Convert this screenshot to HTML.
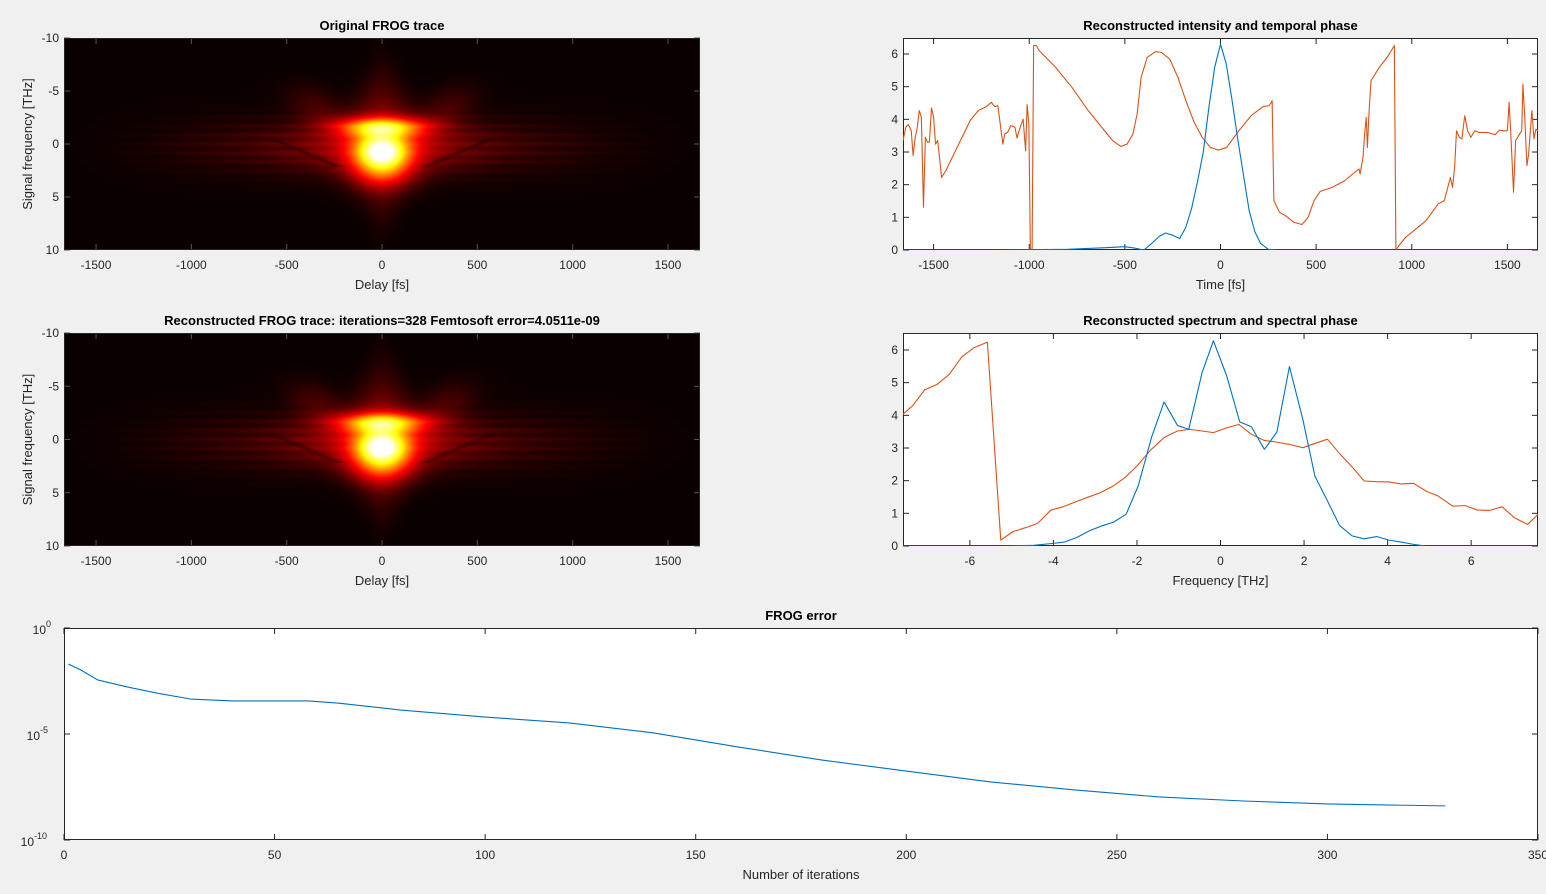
<!DOCTYPE html>
<html><head><meta charset="utf-8">
<style>
html,body{margin:0;padding:0;background:#f0f0f0;}
#wrap{position:relative;width:1546px;height:894px;overflow:hidden;font-family:"Liberation Sans",Arial,sans-serif;}
canvas{position:absolute;}
svg{position:absolute;left:0;top:0;}
</style></head>
<body>
<div id="wrap">
<canvas id="hm1" width="636" height="212" style="left:64px;top:38px"></canvas>
<canvas id="hm2" width="636" height="213" style="left:64px;top:333px"></canvas>
<svg id="fig" width="1546" height="894" xmlns="http://www.w3.org/2000/svg"></svg>
</div>
<script>
// ---------- data ----------
const intTime = [-1660,-1200,-800,-600,-500,-450,-400,-360,-320,-287,-250,-213,-181,-150,-120,-90,-60,-30,0,30,60,90,120,150,180,210,250,300,1660];
const intValues = [0,0,0.02,0.07,0.1,0.06,0,0.2,0.42,0.52,0.45,0.35,0.7,1.3,2.1,3.0,4.4,5.6,6.3,5.7,4.6,3.4,2.3,1.2,0.55,0.2,0.02,0,0];
const phaseTime = [-1660,-1645,-1632,-1617,-1607,-1596,-1585,-1575,-1564,-1553,-1543,-1532,-1522,-1511,-1500,-1490,-1479,-1458,-1436,-1394,-1351,-1309,-1266,-1224,-1198,-1181,-1164,-1138,-1128,-1113,-1096,-1075,-1064,-1053,-1032,-1019,-1011,-1002,-994,-985,-977,-964,-947,-862,-777,-692,-606,-564,-521,-489,-458,-436,-415,-383,-340,-309,-266,-223,-181,-138,-96,-53,-11,32,96,160,223,255,270,279,309,340,383,426,458,489,521,585,649,702,724,730,745,755,762,768,777,787,809,830,872,909,917,926,968,1011,1075,1138,1170,1202,1213,1224,1234,1249,1262,1277,1292,1309,1330,1351,1394,1436,1458,1479,1500,1509,1517,1532,1543,1564,1575,1581,1590,1602,1611,1628,1639,1649,1660];
const phaseValues = [3.35,3.76,3.84,3.65,2.89,3.45,3.76,4.27,4.06,1.31,3.45,3.30,3.30,4.35,4.06,3.24,3.35,2.22,2.43,2.94,3.45,3.96,4.27,4.39,4.52,4.39,4.42,3.24,3.55,3.60,3.81,3.76,3.43,3.65,4.01,3.04,4.45,3.86,0,0.03,6.26,6.26,6.10,5.59,4.98,4.27,3.65,3.35,3.17,3.24,3.55,4.16,5.29,5.90,6.07,6.05,5.85,5.29,4.57,3.91,3.45,3.14,3.06,3.14,3.65,4.11,4.39,4.42,4.57,1.51,1.15,1.05,0.85,0.78,1.0,1.51,1.79,1.92,2.12,2.38,2.48,2.33,2.84,3.65,4.06,3.14,4.27,5.18,5.39,5.59,5.90,6.26,0,0.08,0.39,0.59,0.90,1.41,1.51,2.22,1.92,2.53,3.65,3.45,3.40,4.11,3.65,3.45,3.65,3.60,3.60,3.53,3.67,3.65,3.65,4.52,3.65,1.77,3.35,3.55,3.65,5.08,4.16,2.58,2.94,4.27,3.40,3.70,3.65];
const specFreq = [-7.67,-5.26,-4.47,-4.0,-3.74,-3.44,-3.15,-2.85,-2.56,-2.26,-1.97,-1.64,-1.35,-1.03,-0.76,-0.44,-0.17,0.15,0.46,0.74,1.05,1.35,1.65,1.97,2.26,2.56,2.85,3.15,3.44,3.74,4.03,4.33,4.62,4.92,7.67];
const specValues = [0,0,0.02,0.08,0.12,0.26,0.46,0.61,0.73,0.97,1.84,3.37,4.41,3.69,3.57,5.31,6.28,5.20,3.80,3.65,2.96,3.49,5.49,3.88,2.14,1.38,0.63,0.31,0.22,0.29,0.18,0.12,0.05,0,0];
const sphFreq = [-7.67,-7.37,-7.08,-6.78,-6.49,-6.19,-5.90,-5.58,-5.26,-4.97,-4.67,-4.38,-4.06,-3.77,-3.47,-3.18,-2.88,-2.59,-2.29,-2.0,-1.67,-1.35,-1.03,-0.74,-0.44,-0.17,0.15,0.44,0.74,1.05,1.35,1.65,1.97,2.26,2.56,2.85,3.15,3.44,3.74,4.03,4.33,4.62,4.92,5.21,5.56,5.85,6.15,6.44,6.74,7.03,7.35,7.67];
const sphValues = [3.96,4.29,4.78,4.95,5.26,5.79,6.07,6.24,0.18,0.44,0.56,0.69,1.10,1.20,1.35,1.49,1.63,1.82,2.09,2.45,2.94,3.32,3.52,3.57,3.52,3.47,3.62,3.72,3.42,3.23,3.18,3.11,3.01,3.14,3.27,2.83,2.42,1.99,1.97,1.96,1.90,1.92,1.68,1.53,1.22,1.24,1.10,1.09,1.20,0.87,0.66,1.05];
const errIter = [1,4,8,15,22,30,40,58,65,80,100,120,140,160,180,200,220,240,260,280,300,315,328];
const errLog10 = [-1.70,-1.98,-2.45,-2.78,-3.07,-3.35,-3.44,-3.44,-3.54,-3.87,-4.20,-4.48,-4.95,-5.61,-6.23,-6.75,-7.26,-7.64,-7.97,-8.16,-8.30,-8.35,-8.39];
const delayTicks = [-1500,-1000,-500,0,500,1000,1500];
const freqTicksTrace = [-10,-5,0,5,10];
const ampTicks = [0,1,2,3,4,5,6];
const freqTicks = [-6,-4,-2,0,2,4,6];
const iterTicks = [0,50,100,150,200,250,300,350];
const logTicks = [0,-5,-10];
// heatmap model components (delay fs, freq THz, amplitude, delay width, freq width)
const blobDelay = [0,0,0,0];
const blobFreq = [0.6,-1.6,2.5,0.3];
const blobAmp = [0.55,0.5,0.3,0.25];
const blobDW = [130,250,170,420];
const blobFW = [1.5,0.9,1.7,2.3];

const NS="http://www.w3.org/2000/svg";
const svg=document.getElementById('fig');
function mk(tag,attrs,parent){const e=document.createElementNS(NS,tag);for(const k in attrs)e.setAttribute(k,attrs[k]);(parent||svg).appendChild(e);return e;}
function txt(s,x,y,opt,parent){const t=mk('text',Object.assign({x:x,y:y,'font-family':'Liberation Sans, Arial, sans-serif','font-size':12,fill:'#262626'},opt||{}),parent);t.textContent=s;return t;}

function makeAxes(c){
  c.sx=v=>c.x0+(v-c.xmin)/(c.xmax-c.xmin)*c.w;
  c.sy=c.yrev? (v=>c.y0+(v-c.ymin)/(c.ymax-c.ymin)*c.h) : (v=>c.y0+c.h-(v-c.ymin)/(c.ymax-c.ymin)*c.h);
  return c;
}
function drawFrame(c,name,tickColor){
  const g=mk('g',{});
  
  
  if(c.bg) mk('rect',{x:c.x0,y:c.y0,width:c.w,height:c.h,fill:c.bg},g);
  const tc=tickColor||'#262626';
  c.xt.forEach(v=>{const x=c.sx(v);
    mk('line',{x1:x,y1:c.y0+c.h,x2:x,y2:c.y0+c.h-6,stroke:tc,'stroke-width':1},g);
    mk('line',{x1:x,y1:c.y0,x2:x,y2:c.y0+6,stroke:tc,'stroke-width':1},g);
    if(!c.noXLabels){const t=txt(String(v),x,c.y0+c.h+19,{'text-anchor':'middle'},g);
    }
  });
  c.yt.forEach(v=>{const y=c.sy(v);
    mk('line',{x1:c.x0,y1:y,x2:c.x0+6,y2:y,stroke:tc,'stroke-width':1},g);
    mk('line',{x1:c.x0+c.w,y1:y,x2:c.x0+c.w-6,y2:y,stroke:tc,'stroke-width':1},g);
    if(!c.noYLabels){const t=txt(String(v),c.x0-5,y+4,{'text-anchor':'end'},g);
    }
  });
  mk('rect',{x:c.x0+0.5,y:c.y0+0.5,width:c.w-1,height:c.h-1,fill:'none',stroke:'#262626','stroke-width':1},g);
  if(c.title){const t=txt(c.title,c.x0+c.w/2,c.y0-8,{'text-anchor':'middle','font-weight':'bold','font-size':13,fill:'#000'},g);
    }
  if(c.xlabel){const t=txt(c.xlabel,c.x0+c.w/2,c.y0+c.h+39,{'text-anchor':'middle','font-size':13},g);
    }
  if(c.ylabel){const cx=c.x0-32,cy=c.y0+c.h/2;const t=txt(c.ylabel,cx,cy,{'text-anchor':'middle','font-size':13,transform:`rotate(-90 ${cx} ${cy})`},g);
    }
  return g;
}
function drawLine(c,xs,ys,color,name){
  let d='';xs.forEach((x,i)=>{d+=(i?'L':'M')+c.sx(x).toFixed(2)+','+c.sy(ys[i]).toFixed(2);});
  const p=mk('path',{d:d,fill:'none',stroke:color,'stroke-width':1.1,'stroke-linejoin':'round','clip-path':'url(#'+c.clip+')'});
  
  return p;
}
const defs=mk('defs',{});
function clip(id,c){const cp=mk('clipPath',{id:id},defs);mk('rect',{x:c.x0,y:c.y0,width:c.w,height:c.h},cp);c.clip=id;}

// ---------- heatmaps ----------
function G(a,b){return Math.exp(-a*a-b*b);}
function intensity(d,f){
  let I=0;
  for(let i=0;i<blobAmp.length;i++) I+=blobAmp[i]*G((d-blobDelay[i])/blobDW[i],(f-blobFreq[i])/blobFW[i]);
  const sw=Math.max(30,210*(1-Math.abs(f)/12));
  I+=0.22*G(d/sw,f/5.5);
  const ad=Math.abs(d);
  const wing=0.1*Math.exp(-Math.pow(d/1150,4))*G(0,(f-0.2)/2.6)*(0.72+0.28*Math.cos(2*Math.PI*f/0.85))*(1-Math.exp(-Math.pow(d/300,2)));
  I+=wing;
  if(f<-1.5&&f>-7) I+=0.08*Math.exp(-Math.pow((ad-(300+(f+2)*-30))/140,2))*G(0,(f+3.5)/2.0);
  if(f>-0.5&&f<2.2){const ld=275+(1.8-f)*130;I*=1-0.4*Math.exp(-Math.pow((ad-ld)/25,2));}
  return I;
}
function hot(t){t=Math.max(0,Math.min(1,t));const r=Math.min(1,0.0417+t/0.375*0.9583),g=Math.max(0,Math.min(1,(t-0.375)/0.375)),b=Math.max(0,Math.min(1,(t-0.75)/0.25));return [r*255,g*255,b*255];}
function drawHeat(id,dmin,dmax,fmin,fmax){
  const cv=document.getElementById(id),ctx=cv.getContext('2d');const W=cv.width,H=cv.height;
  const img=ctx.createImageData(W,H);
  for(let y=0;y<H;y++){const f=fmin+(y+0.5)/H*(fmax-fmin);
    for(let x=0;x<W;x++){const d=dmin+(x+0.5)/W*(dmax-dmin);
      const c=hot(intensity(d,f));const k=(y*W+x)*4;img.data[k]=c[0];img.data[k+1]=c[1];img.data[k+2]=c[2];img.data[k+3]=255;}}
  ctx.putImageData(img,0,0);
}
drawHeat('hm1',-1668,1668,-10,10);
drawHeat('hm2',-1668,1668,-10,10);

// ---------- axes ----------
const a1=makeAxes({x0:64,y0:38,w:636,h:212,xmin:-1668,xmax:1668,ymin:-10,ymax:10,yrev:true,xt:delayTicks,yt:freqTicksTrace,title:'Original FROG trace',xlabel:'Delay [fs]',ylabel:'Signal frequency [THz]'});
drawFrame(a1,'original-trace-axes','#555');
const a3=makeAxes({x0:64,y0:333,w:636,h:213,xmin:-1668,xmax:1668,ymin:-10,ymax:10,yrev:true,xt:delayTicks,yt:freqTicksTrace,title:'Reconstructed FROG trace: iterations=328 Femtosoft error=4.0511e-09',xlabel:'Delay [fs]',ylabel:'Signal frequency [THz]'});
drawFrame(a3,'reconstructed-trace-axes','#555');

const a2=makeAxes({x0:903,y0:38,w:635,h:212,xmin:-1660,xmax:1660,ymin:0,ymax:6.49,xt:delayTicks,yt:ampTicks,title:'Reconstructed intensity and temporal phase',xlabel:'Time [fs]',bg:'#fff'});
clip('c2',a2);
drawFrame(a2,'temporal-axes');
drawLine(a2,phaseTime,phaseValues,'#d95319','temporal-phase-line');
drawLine(a2,intTime,intValues,'#0072bd','intensity-line');

const a4=makeAxes({x0:903,y0:333,w:635,h:213,xmin:-7.6,xmax:7.6,ymin:0,ymax:6.52,xt:freqTicks,yt:ampTicks,title:'Reconstructed spectrum and spectral phase',xlabel:'Frequency [THz]',bg:'#fff'});
clip('c4',a4);
drawFrame(a4,'spectral-axes');
drawLine(a4,sphFreq,sphValues,'#d95319','spectral-phase-line');
drawLine(a4,specFreq,specValues,'#0072bd','spectrum-line');

const a5=makeAxes({x0:64,y0:628,w:1474,h:212,xmin:0,xmax:350,ymin:-10,ymax:0,xt:iterTicks,yt:logTicks,title:'FROG error',xlabel:'Number of iterations',bg:'#fff',noYLabels:true});
clip('c5',a5);
drawFrame(a5,'frog-error-axes');
logTicks.forEach(v=>{const y=a5.sy(v);
  const t=txt('10',a5.x0-12-(String(v).length*6),y+6,{'text-anchor':'end'});
  
  const s=txt(String(v),a5.x0-12-(String(v).length*6),y-1,{'text-anchor':'start','font-size':9});
  
});
drawLine(a5,errIter,errLog10,'#0072bd','frog-error-line');
</script>
</body></html>
